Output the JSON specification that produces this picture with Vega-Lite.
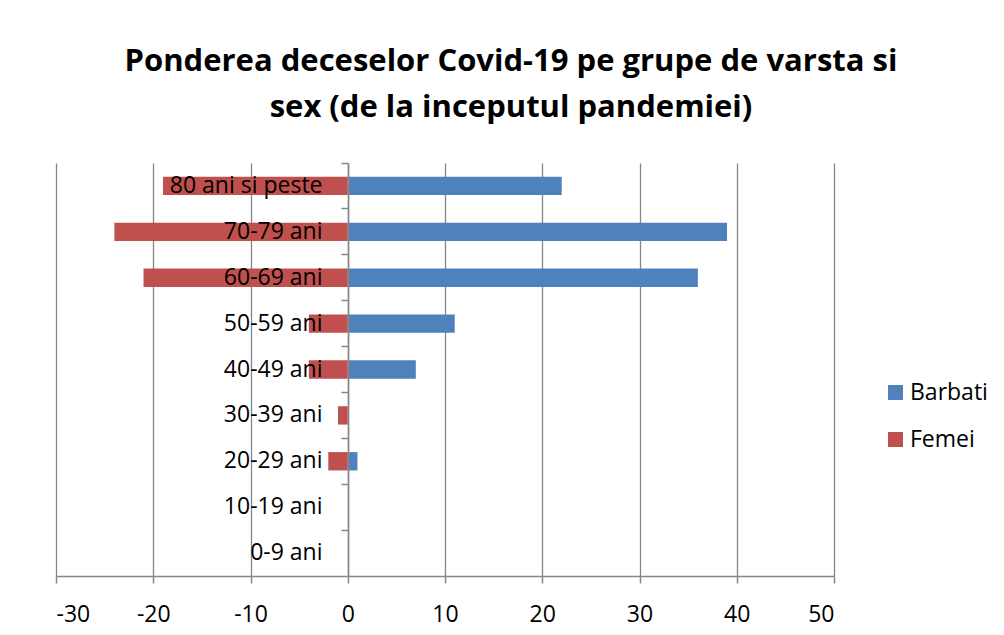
{
  "$schema": "https://vega.github.io/schema/vega-lite/v6.json",
  "autosize": {"type": "none"},
  "padding": {"left": 56, "top": 163, "right": 170, "bottom": 59},
  "width": 778,
  "height": 413,
  "background": "white",
  "title": {
    "text": ["Ponderea deceselor Covid-19 pe grupe de varsta si", "sex (de la inceputul pandemiei)"],
    "font": "Open Sans",
    "fontSize": 31,
    "fontWeight": "bold",
    "color": "black",
    "lineHeight": 46,
    "anchor": "middle",
    "dx": 66,
    "offset": 38
  },
  "data": {
    "values": [
      {"age": "80 ani si peste", "sex": "Barbati", "value": 22},
      {"age": "70-79 ani", "sex": "Barbati", "value": 39},
      {"age": "60-69 ani", "sex": "Barbati", "value": 36},
      {"age": "50-59 ani", "sex": "Barbati", "value": 11},
      {"age": "40-49 ani", "sex": "Barbati", "value": 7},
      {"age": "30-39 ani", "sex": "Barbati", "value": 0},
      {"age": "20-29 ani", "sex": "Barbati", "value": 1},
      {"age": "10-19 ani", "sex": "Barbati", "value": 0},
      {"age": "0-9 ani", "sex": "Barbati", "value": 0},
      {"age": "80 ani si peste", "sex": "Femei", "value": -19},
      {"age": "70-79 ani", "sex": "Femei", "value": -24},
      {"age": "60-69 ani", "sex": "Femei", "value": -21},
      {"age": "50-59 ani", "sex": "Femei", "value": -4},
      {"age": "40-49 ani", "sex": "Femei", "value": -4},
      {"age": "30-39 ani", "sex": "Femei", "value": -1},
      {"age": "20-29 ani", "sex": "Femei", "value": -2},
      {"age": "10-19 ani", "sex": "Femei", "value": 0},
      {"age": "0-9 ani", "sex": "Femei", "value": 0}
    ]
  },
  "mark": {"type": "bar"},
  "encoding": {
    "y": {
      "field": "age",
      "type": "nominal",
      "sort": ["80 ani si peste", "70-79 ani", "60-69 ani", "50-59 ani", "40-49 ani", "30-39 ani", "20-29 ani", "10-19 ani", "0-9 ani"],
      "scale": {"paddingInner": 0.6, "paddingOuter": 0.3},
      "axis": {
        "title": null,
        "offset": -292,
        "zindex": 1,
        "bandPosition": -0.75,
        "tickSize": 7,
        "tickColor": "#868686",
        "tickWidth": 1.5,
        "domainColor": "#868686",
        "domainWidth": 1.5,
        "labelPadding": 19,
        "labelFont": "Open Sans",
        "labelFontSize": 23,
        "labelColor": "black",
        "grid": false
      }
    },
    "x": {
      "field": "value",
      "type": "quantitative",
      "stack": null,
      "scale": {"domain": [-30, 50], "nice": false, "zero": false},
      "axis": {
        "title": null,
        "values": [-30, -20, -10, 0, 10, 20, 30, 40, 50],
        "labelExpr": "datum.value + ''",
        "grid": true,
        "gridColor": "#868686",
        "gridWidth": 1.3,
        "tickSize": 7,
        "tickColor": "#868686",
        "tickWidth": 1.5,
        "domainColor": "#868686",
        "domainWidth": 1.5,
        "labelPadding": 20,
        "labelFont": "Open Sans",
        "labelFontSize": 23,
        "labelColor": "black"
      }
    },
    "color": {
      "field": "sex",
      "type": "nominal",
      "scale": {"domain": ["Barbati", "Femei"], "range": ["#4F81BD", "#C0504D"]},
      "legend": {
        "title": null,
        "orient": "none",
        "legendX": 828,
        "legendY": 218,
        "symbolType": "square",
        "symbolSize": 225,
        "symbolStrokeWidth": 0,
        "labelFont": "Open Sans",
        "labelFontSize": 23,
        "labelColor": "black",
        "labelOffset": 3,
        "rowPadding": 23
      }
    }
  },
  "config": {"view": {"stroke": null}}
}
